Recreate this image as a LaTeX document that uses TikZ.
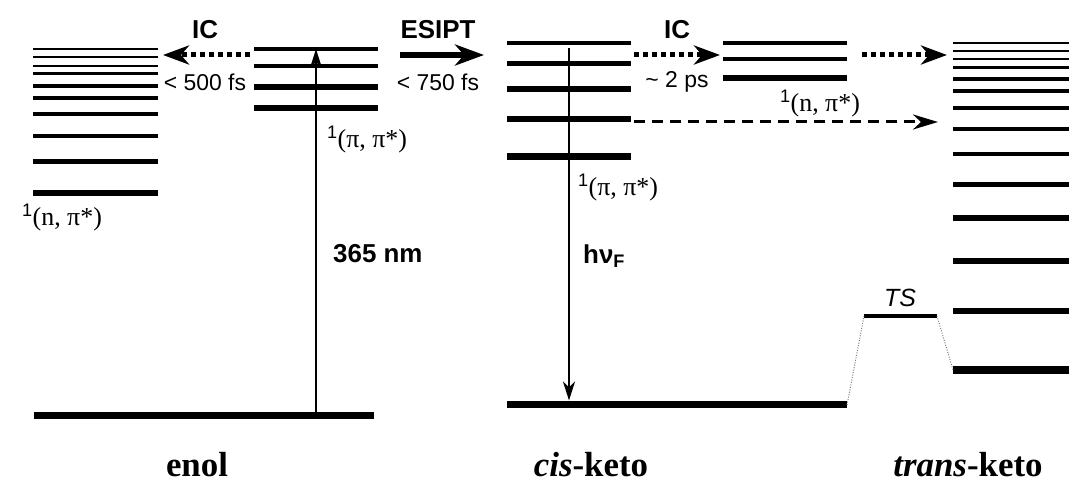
\documentclass[tikz,border=0pt]{standalone}
\usepackage{fontspec}
\setmainfont{Liberation Serif}
\setsansfont{Liberation Sans}
\usetikzlibrary{arrows.meta,positioning}
\newcommand{\spinone}{\textsuperscript{\sffamily 1}}

\begin{document}
\begin{tikzpicture}[x=1bp,y=-1bp,
      lvl/.style={line cap=butt},
      hd/.style={font=\sffamily\bfseries\fontsize{26}{30}\selectfont,inner sep=0},
      tm/.style={font=\sffamily\fontsize{23}{27}\selectfont,inner sep=0},
      st/.style={font=\fontsize{26}{30}\selectfont,inner sep=0},
      mol/.style={font=\bfseries\fontsize{35}{40}\selectfont,inner sep=0,anchor=base},
      dotarr/.style={line width=5bp,dash pattern=on 5bp off 4bp,
                     -{Stealth[length=26bp,width=19bp,inset=8bp]}},
      solarr/.style={line width=6bp,-{Stealth[length=29bp,width=21bp,inset=9bp]}},
      dasharr/.style={line width=3bp,dash pattern=on 11bp off 7bp,
                      -{Stealth[length=25bp,width=15bp,inset=8bp]}},
      thinarr/.style={line width=2.2bp,-{Stealth[length=19bp,width=12bp,inset=6bp]}},
      barrier/.style={line width=1bp,gray,dash pattern=on 1bp off 1.5bp}]
    \useasboundingbox (0,0) rectangle (1069,484);
    \foreach \y/\w in {49/1.8bp,57/2.2bp,66/2.6bp,74/3bp,86/3.4bp,98/3.8bp,
                       114/4.2bp,136/4.6bp,162/5bp,193/5.6bp}
      \draw[lvl,line width=\w] (33,\y) -- (158,\y);
    \foreach \y/\w in {49/3.5bp,66/4.5bp,87/5.5bp,108/6bp}
      \draw[lvl,line width=\w] (254,\y) -- (378,\y);
    \draw[lvl,line width=7bp] (34,415) -- (374,415);
    \foreach \y/\w in {43/4.5bp,64/5bp,89/5.5bp,119/6bp,157/7bp}
      \draw[lvl,line width=\w] (507,\y) -- (631,\y);
    \foreach \y/\w in {43/3.5bp,59/4.5bp,78/6bp}
      \draw[lvl,line width=\w] (723,\y) -- (847,\y);
    \draw[lvl,line width=7bp] (507,404) -- (847,404);
    \foreach \y/\w in {43/2bp,51/2.3bp,59/2.6bp,68/3bp,79/3.4bp,91/3.7bp,108/4bp,
                       129/4.3bp,154/4.6bp,185/5bp,218/5.3bp,261/5.6bp,311/6bp,370/7bp}
      \draw[lvl,line width=\w] (953,\y) -- (1069,\y);
    \draw[lvl,line width=4bp] (864,316) -- (937,316);
    \coordinate (eg) at (316,415);
    \coordinate (etop) at (316,49);
    \coordinate (ctop) at (569,48);
    \coordinate (cg) at (569,400.5);
    \coordinate (ic1s) at (250,55);
    \coordinate (ic1e) at (163,55);
    \coordinate (es) at (400,55);
    \coordinate (ee) at (484,55);
    \coordinate (ic2s) at (634,55);
    \coordinate (ic2e) at (720,55);
    \coordinate (ic3s) at (862,55);
    \coordinate (ic3e) at (947,55);
    \coordinate (ds) at (634,122);
    \coordinate (de) at (938,122);
    \coordinate (cgr) at (847,405);
    \coordinate (tsl) at (864,316);
    \coordinate (tsr) at (937,316);
    \coordinate (tg) at (953,370);
    \draw[thinarr] (eg) -- (etop);
    \draw[thinarr] (ctop) -- (cg);
    \draw[dotarr] (ic1s) -- (ic1e);
    \draw[solarr] (es) -- (ee);
    \draw[dotarr] (ic2s) -- (ic2e);
    \draw[dotarr] (ic3s) -- (ic3e);
    \draw[dasharr] (ds) -- (de);
    \draw[barrier] (cgr) -- (tsl);
    \draw[barrier] (tsr) -- (tg);
    \node[hd] (ic1) at (205,30) {IC};
    \node[tm] (t1) at (205,82) {< 500 fs};
    \node[hd] (esipt) at (438,30) {ESIPT};
    \node[tm] (t2) at (438,82) {< 750 fs};
    \node[hd] (ic2) at (677,30) {IC};
    \node[tm] (t3) at (677,82) {\textasciitilde{} 2 ps};
    \node[st] (enp) at (62,218) {\spinone(n, π*)};
    \node[st] (epp) at (367,140) {\spinone(π, π*)};
    \node[hd,anchor=west] (nm) at (333,254) {365 nm};
    \node[st] (cpp) at (618,188) {\spinone(π, π*)};
    \node[hd,anchor=west] (hv) at (583,256) {hν\textsubscript{F}};
    \node[st] (cnp) at (820,104) {\spinone(n, π*)};
    \node[font=\sffamily\itshape\fontsize{25}{28}\selectfont,inner sep=0] (ts) at (900,298) {TS};
    \node[mol] (enol) at (197,476) {enol};
    \node[mol] (cis) at (591,476) {\textit{cis}-keto};
    \node[mol] (trans) at (968,476) {\textit{trans}-keto};
  \end{tikzpicture}
\end{document}
